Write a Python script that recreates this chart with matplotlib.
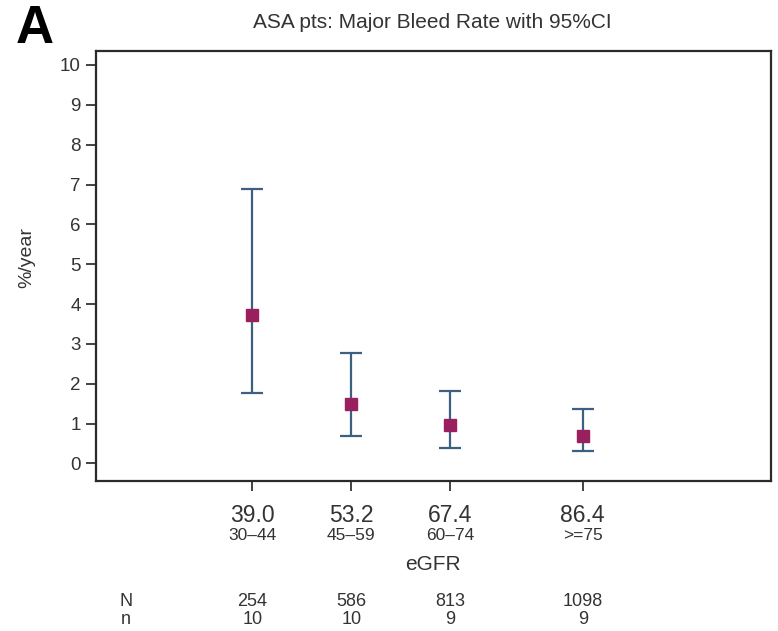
import matplotlib
matplotlib.use("Agg")
import matplotlib.pyplot as plt
from matplotlib import font_manager
from matplotlib.transforms import blended_transform_factory

# ---- data ----
egfr_mean = [39.0, 53.2, 67.4, 86.4]
egfr_range = ["30-44", "45-59", "60-74", ">=75"]
rate = [3.72, 1.48, 0.96, 0.68]
ci_low = [1.78, 0.70, 0.40, 0.31]
ci_high = [6.88, 2.77, 1.83, 1.37]
N_vals = ["254", "586", "813", "1098"]
n_vals = ["10", "10", "9", "9"]
yticks = list(range(0, 11))

names = {f.name for f in font_manager.fontManager.ttflist}
narrow = "Liberation Sans Narrow" if "Liberation Sans Narrow" in names else "Liberation Sans"
base = "Liberation Sans"
plt.rcParams['font.family'] = [base, 'DejaVu Sans']
nfam = [narrow, 'DejaVu Sans']

txt = "#333333"
fig = plt.figure(figsize=(7.78, 6.31), dpi=100)
ax = fig.add_axes([96/778, 1-481/631, (771-96)/778, (481-51)/631])

yerr = [[r - l for r, l in zip(rate, ci_low)], [h - r for r, h in zip(rate, ci_high)]]
ax.errorbar(egfr_mean, rate, yerr=yerr, fmt='none', ecolor='#3d5f80',
            elinewidth=1.6, capsize=8, capthick=1.6, zorder=2)
ax.plot(egfr_mean, rate, 's', color='#9a1f5e', markersize=9, zorder=3, linestyle='none')

ax.set_xlim(16.6, 113.4)
ax.set_ylim(-0.44, 10.35)
ax.set_yticks(yticks)
ax.set_yticklabels([str(v) for v in yticks], fontsize=13.5, color=txt)
ax.set_xticks(egfr_mean)
ax.set_xticklabels([])
ax.tick_params(axis='both', length=7, width=1.2, color='#222222')
ax.tick_params(axis='y', pad=4)
for s in ax.spines.values():
    s.set_linewidth(1.6)
    s.set_color('#2a2a2a')

fig.text(27/778, 1-258/631, "%/year", rotation=90, ha='center', va='center',
         fontsize=14, color=txt)

tr = blended_transform_factory(ax.transData, fig.transFigure)
for x, rng, Nv, nv in zip(egfr_mean, egfr_range, N_vals, n_vals):
    ax.text(x, 1-515/631, f"{x:.1f}", transform=tr, ha='center', va='center',
            fontsize=16.5, family=nfam, color=txt)
    ax.text(x, 1-535/631, rng.replace('-', '\u2013'), transform=tr, ha='center', va='center',
            fontsize=12.5, family=nfam, color=txt)
    ax.text(x, 1-602/631, Nv, transform=tr, ha='center', va='center',
            fontsize=13, family=nfam, color=txt)
    ax.text(x, 1-620/631, nv, transform=tr, ha='center', va='center',
            fontsize=13, family=nfam, color=txt)

fig.text(126/778, 1-602/631, "N", ha='center', va='center', fontsize=13,
         family=nfam, color=txt)
fig.text(126/778, 1-620/631, "n", ha='center', va='center', fontsize=13,
         family=nfam, color=txt)
fig.text(433/778, 1-564/631, "eGFR", ha='center', va='center', fontsize=15, color=txt)

fig.text(432/778, 1-22/631, "ASA pts: Major Bleed Rate with 95%CI", ha='center', va='center',
         fontsize=15, color=txt)
fig.text(16/778, 1-29/631, "A", ha='left', va='center', fontsize=38, fontweight='bold',
         color='black')

fig.savefig("out.png", dpi=100, facecolor='white')
